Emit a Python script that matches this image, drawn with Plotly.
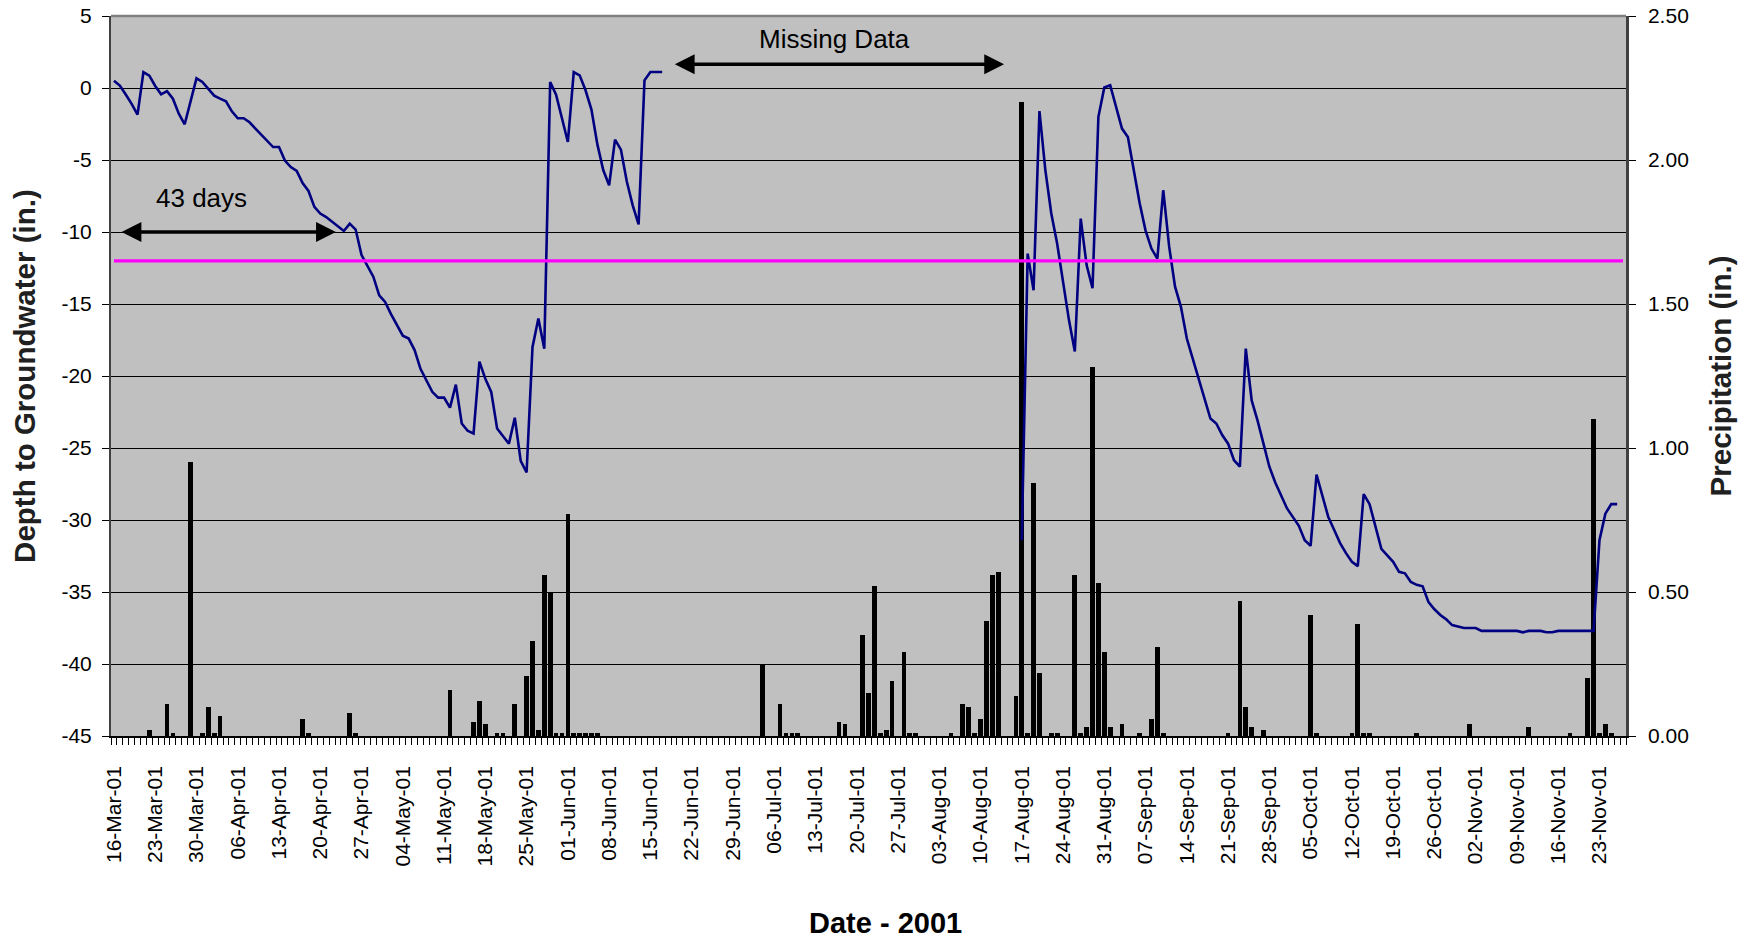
import pandas as pd
import plotly.graph_objects as go

# ---------------- data ----------------
start_date = "2001-03-16"
n_days = 257  # 16-Mar-01 .. 27-Nov-01
categories = pd.date_range(start_date, periods=n_days, freq="D")
tick_dates = categories[::7]
tick_labels = [d.strftime("%d-%b-%y") for d in tick_dates]

# depth to groundwater (in.), first record segment
gw_seg1_start = "2001-03-16"
gw_seg1 = [0.51, 0.17, -0.45, -1.1, -1.85, 1.11, 0.86, 0.14, -0.44, -0.22,
           -0.74, -1.78, -2.52, -0.9, 0.67, 0.42, -0.02, -0.53, -0.74, -0.92,
           -1.62, -2.1, -2.1, -2.38, -2.82, -3.26, -3.63, -4.1, -4.1, -5.04,
           -5.49, -5.76, -6.6, -7.15, -8.26, -8.72, -8.96, -9.3, -9.65, -9.93,
           -9.42, -9.83, -11.6, -12.3, -13.1, -14.4, -14.86, -15.7, -16.5, -17.2,
           -17.4, -18.2, -19.5, -20.3, -21.1, -21.5, -21.5, -22.2, -20.6, -23.3,
           -23.8, -24.0, -19.0, -20.2, -21.1, -23.65, -24.2, -24.7, -22.9, -25.9,
           -26.7, -18.0, -16.0, -18.1, 0.42, -0.46, -2.1, -3.75, 1.11, 0.88,
           -0.16, -1.5, -3.9, -5.7, -6.76, -3.59, -4.28, -6.5, -8.15, -9.47,
           0.53, 1.11, 1.11, 1.11]

# depth to groundwater (in.), second record segment
gw_seg2_start = "2001-08-17"
gw_seg2 = [-31.4, -11.5, -14.05, -1.6, -5.7, -8.7, -10.8, -13.6, -16.1, -18.3,
           -9.07, -12.3, -13.9, -2.0, 0.03, 0.19, -1.32, -2.82, -3.4, -5.7,
           -8.0, -9.9, -11.15, -11.85, -7.1, -11.0, -13.8, -15.2, -17.4, -18.8,
           -20.2, -21.7, -22.96, -23.3, -24.1, -24.7, -25.85, -26.3, -18.1, -21.7,
           -23.1, -24.7, -26.3, -27.4, -28.3, -29.2, -29.8, -30.4, -31.4, -31.8,
           -26.85, -28.4, -29.8, -30.7, -31.6, -32.3, -32.9, -33.2, -28.2, -28.9,
           -30.5, -32.0, -32.45, -32.9, -33.6, -33.7, -34.3, -34.5, -34.6, -35.7,
           -36.2, -36.6, -36.9, -37.3, -37.4, -37.5, -37.5, -37.5, -37.7, -37.7,
           -37.7, -37.7, -37.7, -37.7, -37.7, -37.8, -37.7, -37.7, -37.7, -37.8,
           -37.8, -37.7, -37.7, -37.7, -37.7, -37.7, -37.7, -37.7, -31.4, -29.56,
           -28.9, -28.9]

# daily precipitation (in.)
precip_dates = ["2001-03-22", "2001-03-25", "2001-03-26", "2001-03-29", "2001-03-31",
                "2001-04-01", "2001-04-02", "2001-04-03", "2001-04-17", "2001-04-18",
                "2001-04-25", "2001-04-26", "2001-05-12", "2001-05-16", "2001-05-17",
                "2001-05-18", "2001-05-20", "2001-05-21", "2001-05-23", "2001-05-25",
                "2001-05-26", "2001-05-27", "2001-05-28", "2001-05-29", "2001-05-30",
                "2001-05-31", "2001-06-01", "2001-06-02", "2001-06-03", "2001-06-04",
                "2001-06-05", "2001-06-06", "2001-07-04", "2001-07-07", "2001-07-08",
                "2001-07-09", "2001-07-10", "2001-07-17", "2001-07-18", "2001-07-21",
                "2001-07-22", "2001-07-23", "2001-07-24", "2001-07-25", "2001-07-26",
                "2001-07-28", "2001-07-29", "2001-07-30", "2001-08-05", "2001-08-07",
                "2001-08-08", "2001-08-09", "2001-08-10", "2001-08-11", "2001-08-12",
                "2001-08-13", "2001-08-16", "2001-08-17", "2001-08-18", "2001-08-19",
                "2001-08-20", "2001-08-22", "2001-08-23", "2001-08-26", "2001-08-27",
                "2001-08-28", "2001-08-29", "2001-08-30", "2001-08-31", "2001-09-01",
                "2001-09-03", "2001-09-06", "2001-09-08", "2001-09-09", "2001-09-10",
                "2001-09-21", "2001-09-23", "2001-09-24", "2001-09-25", "2001-09-27",
                "2001-10-05", "2001-10-06", "2001-10-12", "2001-10-13", "2001-10-14",
                "2001-10-15", "2001-10-23", "2001-11-01", "2001-11-11", "2001-11-18",
                "2001-11-21", "2001-11-22", "2001-11-23", "2001-11-24", "2001-11-25"]
precip_in = [0.02, 0.11, 0.01, 0.95, 0.01,
             0.10, 0.01, 0.07, 0.06, 0.01,
             0.08, 0.01, 0.16, 0.05, 0.12,
             0.04, 0.01, 0.01, 0.11, 0.21,
             0.33, 0.02, 0.56, 0.50, 0.01,
             0.01, 0.77, 0.01, 0.01, 0.01,
             0.01, 0.01, 0.25, 0.11, 0.01,
             0.01, 0.01, 0.05, 0.04, 0.35,
             0.15, 0.52, 0.01, 0.02, 0.19,
             0.29, 0.01, 0.01, 0.01, 0.11,
             0.10, 0.01, 0.06, 0.40, 0.56,
             0.57, 0.14, 2.20, 0.01, 0.88,
             0.22, 0.01, 0.01, 0.56, 0.01,
             0.03, 1.28, 0.53, 0.29, 0.03,
             0.04, 0.01, 0.06, 0.31, 0.01,
             0.01, 0.47, 0.10, 0.03, 0.02,
             0.42, 0.01, 0.01, 0.39, 0.01,
             0.01, 0.01, 0.04, 0.03, 0.01,
             0.20, 1.10, 0.01, 0.04, 0.01]

threshold_depth = -12

depth_ticks = list(range(-45, 6, 5))
depth_tick_labels = [str(v) for v in depth_ticks]
precip_ticks = [0.0, 0.5, 1.0, 1.5, 2.0, 2.5]
precip_tick_labels = ["%.2f" % v for v in precip_ticks]

# ---------------- figure ----------------
FONT = "Liberation Sans, Arial, sans-serif"
HALF = pd.Timedelta(hours=12)

x1 = pd.date_range(gw_seg1_start, periods=len(gw_seg1), freq="D")
x2 = pd.date_range(gw_seg2_start, periods=len(gw_seg2), freq="D")

fig = go.Figure()

fig.add_trace(go.Bar(
    x=pd.to_datetime(precip_dates), y=precip_in, yaxis="y",
    width=0.8 * 86400000, marker=dict(color="black", line=dict(width=0)),
    showlegend=False))

fig.add_trace(go.Scatter(x=x1, y=gw_seg1, yaxis="y2", mode="lines",
                         line=dict(color="#000080", width=2.6), showlegend=False))
fig.add_trace(go.Scatter(x=x2, y=gw_seg2, yaxis="y2", mode="lines",
                         line=dict(color="#000080", width=2.6), showlegend=False))
fig.add_trace(go.Scatter(x=[categories[0], categories[-1]],
                         y=[threshold_depth, threshold_depth], yaxis="y2",
                         mode="lines", line=dict(color="#FF00FF", width=3.2),
                         showlegend=False))

minor_vals = list(categories - HALF) + [categories[-1] + HALF]

fig.update_layout(
    width=1752, height=940,
    margin=dict(l=111, r=126, t=16, b=204, pad=0, autoexpand=False),
    paper_bgcolor="white", plot_bgcolor="#C0C0C0",
    font=dict(family=FONT, color="black", size=21),
    bargap=0,
    xaxis=dict(
        type="date", automargin=False,
        range=[categories[0] - HALF, categories[-1] + HALF],
        tickmode="array", tickvals=tick_dates, ticktext=tick_labels,
        tickangle=-90, tickfont=dict(size=21),
        ticks="outside", ticklen=7, tickcolor="rgba(0,0,0,0)",
        ticklabelstandoff=13,
        showgrid=False, zeroline=False,
        showline=True, linecolor="black", linewidth=1.5,
        minor=dict(tickmode="array", tickvals=minor_vals, ticks="outside",
                   ticklen=7, tickcolor="black", tickwidth=1, showgrid=False),
    ),
    yaxis=dict(
        side="right", range=[0, 2.5], automargin=False,
        tickmode="array", tickvals=precip_ticks, ticktext=precip_tick_labels,
        ticks="outside", ticklen=7, tickcolor="black",
        showgrid=False, zeroline=False, showline=True, linecolor="#404040",
        linewidth=2.5, ticklabelstandoff=8,
    ),
    yaxis2=dict(
        overlaying="y", side="left", range=[-45, 5], automargin=False,
        tickmode="array", tickvals=depth_ticks, ticktext=depth_tick_labels,
        ticks="outside", ticklen=7, tickcolor="black",
        showgrid=True, gridcolor="black", gridwidth=1, zeroline=False,
        showline=True, linecolor="#404040", linewidth=2, ticklabelstandoff=6,
    ),
)

# top border of plot area
fig.add_shape(type="line", xref="paper", yref="paper", x0=0, x1=1, y0=1, y1=1,
              line=dict(color="#808080", width=2.5))

# axis titles
fig.add_annotation(text="<b>Depth to Groundwater (in.)</b>", xref="paper", yref="paper",
                   x=-0.0575, y=0.5, xanchor="center", yanchor="middle",
                   textangle=-90, showarrow=False, font=dict(size=29.5, color="#202020"))
fig.add_annotation(text="<b>Precipitation (in.)</b>", xref="paper", yref="paper",
                   x=1.0623, y=0.5, xanchor="center", yanchor="middle",
                   textangle=-90, showarrow=False, font=dict(size=29.5, color="#202020"))
fig.add_annotation(text="<b>Date - 2001</b>", xref="paper", yref="paper",
                   x=0.511, y=-0.26, xanchor="center", yanchor="middle",
                   showarrow=False, font=dict(size=29, color="black"))

# "43 days" double arrow
arrow_style = dict(showarrow=True, arrowhead=2, startarrowhead=2, arrowside="end+start",
                   arrowsize=1.2, startarrowsize=1.2, arrowwidth=3.3, arrowcolor="black",
                   standoff=0, startstandoff=0, axref="x", ayref="y2", xref="x", yref="y2",
                   text="")
fig.add_annotation(x="2001-04-22 15:30", y=-10, ax="2001-03-17 01:00", ay=-10, **arrow_style)
fig.add_annotation(text="43 days", x="2001-03-30 19:00", y=-7.66, xref="x", yref="y2",
                   showarrow=False, font=dict(size=26, color="black"),
                   xanchor="center", yanchor="middle")

# "Missing Data" double arrow
fig.add_annotation(x="2001-08-14 00:00", y=1.65, ax="2001-06-18 21:30", ay=1.65, **arrow_style)
fig.add_annotation(text="Missing Data", x="2001-07-16 05:00", y=3.4, xref="x", yref="y2",
                   showarrow=False, font=dict(size=26, color="black"),
                   xanchor="center", yanchor="middle")

fig.write_html("out.html",
               config={"displayModeBar": False},
               post_script="document.body.style.margin='0px';document.body.style.overflow='hidden';")
